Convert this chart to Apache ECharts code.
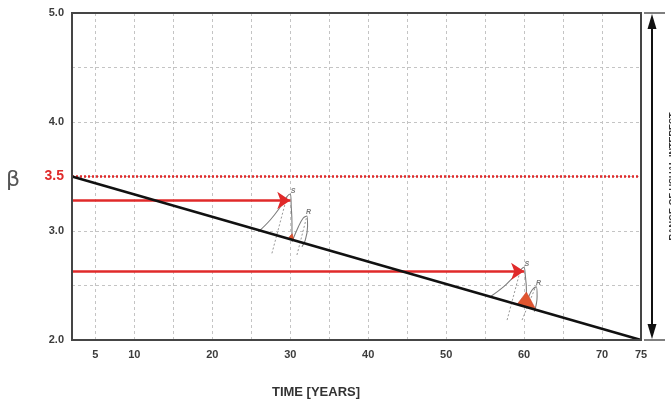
<!DOCTYPE html>
<html>
<head>
<meta charset="utf-8">
<script src="https://cdn.jsdelivr.net/npm/echarts@6/dist/echarts.min.js"></script>
<style>
html,body{margin:0;padding:0;background:#fff;}
#chart{width:671px;height:403px;}
</style>
</head>
<body>
<div id="chart"></div>
<script>
// ---- data ----
const lineYears = [2, 75];
const lineBeta = [3.5, 2.0];
const targetBeta = 3.5;
const arrowStartYear = 2;
const arrowYears = [30, 60];
const arrowBeta = [3.28, 2.63];
const xTickLabels = [5, 10, 20, 30, 40, 50, 60, 70, 75];
const gridYears = [5, 10, 15, 20, 25, 30, 35, 40, 45, 50, 55, 60, 65, 70];
const yTickLabels = [2.0, 3.0, 4.0, 5.0];

// sketched distributions (year, beta)
const s30 = [[25.93,2.994],[27.43,3.101],[28.72,3.220],[29.58,3.315],[30.0,3.339],[30.13,3.220],[30.22,3.073],[30.22,2.917]];
const s30Axis = [[27.65,2.795],[29.58,3.315]];
const r30 = [[30.22,2.902],[31.03,3.037],[31.67,3.119],[32.14,3.138],[32.22,3.039],[31.93,2.917],[31.5,2.856]];
const r30Axis = [[30.86,2.780],[32.14,3.138]];
const s60 = [[55.67,2.397],[57.39,2.489],[58.68,2.581],[59.53,2.642],[59.96,2.667],[60.17,2.581],[60.30,2.459],[60.17,2.306]];
const s60Axis = [[57.82,2.183],[59.53,2.642]];
const r60 = [[60.17,2.306],[60.6,2.397],[61.03,2.459],[61.58,2.489],[61.67,2.397],[61.32,2.260]];
const r60Axis = [[59.74,2.183],[61.45,2.483]];
const fail60 = [[59.1,2.327],[60.3,2.44],[61.54,2.277]];
const fail30 = [[29.8,2.94],[30.25,2.975],[30.5,2.91]];
const curveLabels = [
  {name:'S', value:[30.35, 3.37]},
  {name:'R', value:[32.35, 3.17]},
  {name:'S', value:[60.35, 2.70]},
  {name:'R', value:[61.85, 2.52]}
];

const RED = '#e02a2a';
const chart = echarts.init(document.getElementById('chart'), null, {renderer:'canvas'});

function curve(data, dashed){
  return {type:'line', data:data, smooth: dashed ? false : 0.4, symbol:'none', silent:true, z:3,
    lineStyle:{color:'#7d7d7d', width: dashed ? 0.8 : 1.1, type: dashed ? [2,2] : 'solid'}};
}
function poly(points){
  return {type:'custom', z:4, data:[points[0]], silent:true,
    renderItem:function(params, api){
      const pts = points.map(p => api.coord(p));
      return {type:'polygon', shape:{points:pts}, style:{fill:'#e0552f', stroke:'#c8402a', lineWidth:0.5}};
    }};
}

const option = {
  animation:false,
  grid:{left:72, right:30, top:13, bottom:63, show:false},
  xAxis:{
    type:'value', min:lineYears[0], max:lineYears[1],
    axisLine:{show:false},
    axisTick:{show:false, customValues:gridYears},
    splitLine:{show:true, lineStyle:{color:'#c4c4c4', width:1, type:[3,3]}},
    axisLabel:{customValues:xTickLabels, fontSize:11, fontWeight:'bold', color:'#3c3c3c', margin:9, fontFamily:'Liberation Sans'}
  },
  yAxis:{
    type:'value', min:2, max:5, interval:0.5,
    axisLine:{show:false}, axisTick:{show:false},
    splitLine:{show:true, lineStyle:{color:'#c4c4c4', width:1, type:[3,3]}},
    axisLabel:{
      margin:8, fontSize:11, fontWeight:'bold', color:'#3c3c3c', fontFamily:'Liberation Sans',
      formatter:function(v){
        if (Math.abs(v - targetBeta) < 1e-9) return '{r|' + v.toFixed(1) + '}';
        return yTickLabels.some(t => Math.abs(t - v) < 1e-9) ? v.toFixed(1) : '';
      },
      rich:{r:{color:RED, fontSize:14, fontWeight:'bold', fontFamily:'Liberation Sans'}}
    }
  },
  series:[
    {
      type:'line', name:'beta', data:lineYears.map((y,i)=>[y, lineBeta[i]]),
      symbol:'none', z:5, lineStyle:{color:'#111', width:2.5},
      markLine:{
        silent:true, symbol:['none','none'], label:{show:false},
        lineStyle:{color:RED, width:2.5, type:[2,2]},
        data:[{yAxis:targetBeta}]
      }
    },
    {
      type:'line', data:[], z:6,
      markLine:{
        silent:true, symbol:['none','arrow'], symbolSize:13, label:{show:false},
        lineStyle:{color:RED, width:2.5, type:'solid'},
        data: arrowYears.map((y,i)=>[{coord:[arrowStartYear, arrowBeta[i]]},{coord:[y, arrowBeta[i]]}])
      }
    },
    curve(s30), curve(s30Axis, true), curve(r30), curve(r30Axis, true),
    curve(s60), curve(s60Axis, true), curve(r60), curve(r60Axis, true),
    poly(fail60), poly(fail30),
    {
      type:'scatter', data:curveLabels, symbolSize:0, silent:true, z:7,
      label:{show:true, formatter:'{b}', fontSize:7, fontStyle:'italic', fontWeight:'bold', color:'#555', position:'inside'}
    }
  ]
};
chart.setOption(option);

// annotations
const yTop = chart.convertToPixel({yAxisIndex:0}, 5);
const yBot = chart.convertToPixel({yAxisIndex:0}, 2);
const xLeft = chart.convertToPixel({xAxisIndex:0}, lineYears[0]);
const xRight = chart.convertToPixel({xAxisIndex:0}, lineYears[1]);
const ax = xRight + 11;
chart.setOption({
  graphic:[
    {type:'rect', z:50, shape:{x:xLeft, y:yTop, width:xRight-xLeft, height:yBot-yTop}, style:{fill:'none', stroke:'#454545', lineWidth:2}},
    {type:'line', z:50, shape:{x1:xRight+3, y1:yTop, x2:xRight+24, y2:yTop}, style:{stroke:'#555', lineWidth:1.5}},
    {type:'line', z:50, shape:{x1:xRight+3, y1:yBot, x2:xRight+24, y2:yBot}, style:{stroke:'#555', lineWidth:1.5}},
    {type:'line', z:50, shape:{x1:ax, y1:yTop+12, x2:ax, y2:yBot-12}, style:{stroke:'#111', lineWidth:2}},
    {type:'polygon', z:50, shape:{points:[[ax,yTop+1],[ax-4.5,yTop+16],[ax+4.5,yTop+16]]}, style:{fill:'#111'}},
    {type:'polygon', z:50, shape:{points:[[ax,yBot-1],[ax-4.5,yBot-16],[ax+4.5,yBot-16]]}, style:{fill:'#111'}},
    {type:'text', z:50, x:xRight+32, y:(yTop+yBot)/2, rotation:Math.PI/2,
      style:{text:'RANGE OF USUAL INTEREST', fill:'#333', font:'bold 9px "Liberation Sans"', textAlign:'center', textVerticalAlign:'middle'}},
    {type:'text', z:50, x:13, y:180, style:{text:'β', fill:'#555', font:'22px "DejaVu Sans"', textAlign:'center', textVerticalAlign:'middle'}},
    {type:'text', z:50, x:316, y:392, style:{text:'TIME [YEARS]', fill:'#333', font:'bold 13px "Liberation Sans"', textAlign:'center', textVerticalAlign:'middle'}}
  ]
});
</script>
</body>
</html>
